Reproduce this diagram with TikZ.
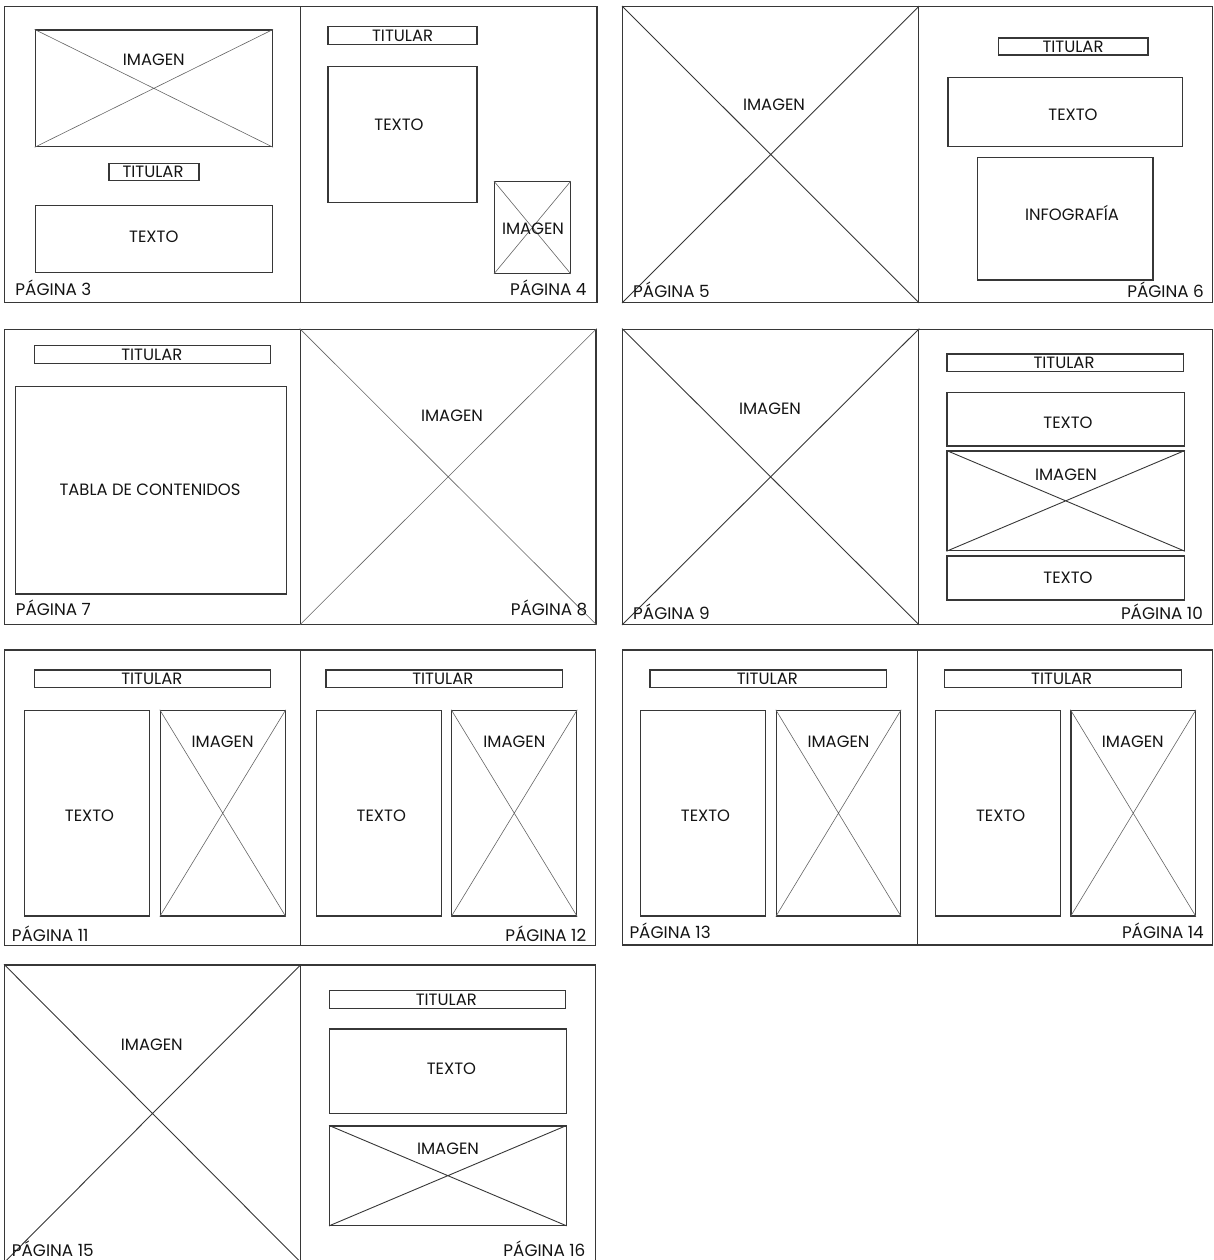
\documentclass[tikz,border=0pt]{standalone}
\usepackage{fontspec}
\setmainfont{Poppins}
\usepackage{tikz}
\usetikzlibrary{fit,positioning}
\definecolor{maqline}{RGB}{55,55,55}
\definecolor{maqcross}{RGB}{100,100,100}
\definecolor{maqtext}{RGB}{20,20,20}
\tikzset{
  mpage/.style ={rectangle, draw=maqline, line width=1.3pt, inner sep=0pt},
  mbox/.style  ={rectangle, draw=maqline, line width=1.1pt, inner sep=0pt},
  mcross/.style={line width=0.6pt, maqcross},
  mcrossd/.style={line width=0.9pt, maqline},
  mlabel/.style={text=maqtext, inner sep=0pt, font=\fontsize{16.4}{17}\selectfont},
  mpag/.style  ={mlabel, font=\fontsize{16.8}{17}\selectfont},
}

\begin{document}
\begin{tikzpicture}[x=1pt, y=-1pt]
  \useasboundingbox (0,0) rectangle (1213,1260);
  % paginas
  \foreach \n/\xa/\ya/\xb/\yb in {
      p3/4.7/6.5/300.4/302.5,      p4/300.4/6.5/597/302.5,
      p5/622.7/6.7/918.6/302.3,    p6/918.6/6.7/1212.5/302.3,
      p7/4.7/329.3/300.4/624.3,    p8/300.4/329.3/596/624.3,
      p9/622.7/329.3/918.6/624.3,  p10/918.6/329.3/1212.5/624.3,
      p11/4.7/650/300.4/945.7,     p12/300.4/650/595.3/945.7,
      p13/622.7/650/917.8/945,     p14/917.8/650/1212.5/945,
      p15/4.7/965/300.4/1262,      p16/300.4/965/595.3/1262}
    \node[mpage, fit={(\xa,\ya) (\xb,\yb)}] (\n) {};
  % cajas
  \foreach \n/\xa/\ya/\xb/\yb in {
      img3/35.2/30/272.5/146.7,     tit3/109/163.3/199/180.7,
      txt3/35.2/205.7/272.5/272.7,  tit4/328/26.7/477/44.3,
      txt4/328/66.7/477/202.3,      img4/494.5/181.7/570.2/273.3,
      tit6/998.8/38/1148/55,        txt6/948/77.7/1182.5/146.7,
      inf6/977.3/157.3/1153/280,
      tit7/34.2/345.7/270.8/363.7,  tab7/15.6/386.7/286.4/594,
      tit10/947/354/1183.7/371.7,   txt10/947/392.3/1184.4/446,
      img10/947/451/1184.4/550.7,   txt10b/947/556/1184.4/600,
      tit11/34.2/670/270.8/687.7,   txt11/24.9/710.3/149.8/916,
      img11/160.3/710.3/285.2/916,  tit12/326/670/562.6/687.7,
      txt12/316.7/710.3/441.2/916,  img12/451.8/710.3/576.7/916,
      tit13/650/670/886.6/687.7,    txt13/640.7/710.3/765.4/916,
      img13/776.3/710.3/900.6/916,  tit14/944.8/670/1181.3/687.7,
      txt14/935.4/710.3/1060.1/916, img14/1071/710.3/1195.4/916,
      tit16/329.6/990.7/565.4/1008.3, txt16/329.6/1029/566.1/1113.3,
      img16/329.6/1126/566.1/1225.3}
    \node[mbox, fit={(\xa,\ya) (\xb,\yb)}] (\n) {};
  % cruces de imagen
  \foreach \n in {img3,img4,p8,img11,img12,img13,img14}
    \draw[mcross] (\n.north west) -- (\n.south east) (\n.north east) -- (\n.south west);
  \foreach \n in {p5,p9,img10,p15,img16}
    \draw[mcrossd] (\n.north west) -- (\n.south east) (\n.north east) -- (\n.south west);
  % textos
  \foreach \n/\x/\y/\t in {
      li3/153.8/59.3/IMAGEN,    lh3/153/172/TITULAR,     lt3/153.8/237/TEXTO,
      lh4/402.6/35.7/TITULAR,   lt4/399/125/TEXTO,       li4/533/228.7/IMAGEN,
      li5/774/104.3/IMAGEN,     lh6/1073/46.7/TITULAR,   lt6/1073/115/TEXTO,
      lf6/1072/213.3/INFOGRAFÍA,
      lh7/151.8/354.7/TITULAR,  lb7/150/490/TABLA DE CONTENIDOS,
      li8/452/415.7/IMAGEN,     li9/770/408.3/IMAGEN,
      lh10/1064/362.7/TITULAR,  lt10/1068/422.3/TEXTO,   li10/1066/474.3/IMAGEN,
      lu10/1068/577.3/TEXTO,
      lh11/151.8/679/TITULAR,   lt11/89.5/815.7/TEXTO,   li11/222.6/741.7/IMAGEN,
      lh12/442.8/679/TITULAR,   lt12/381.3/815.7/TEXTO,  li12/514.4/741.7/IMAGEN,
      lh13/767.3/679/TITULAR,   lt13/705.5/815.7/TEXTO,  li13/838.5/741.7/IMAGEN,
      lh14/1061.7/679/TITULAR,  lt14/1000.7/815.7/TEXTO, li14/1132.8/741.7/IMAGEN,
      li15/151.8/1045/IMAGEN,   lh16/446.3/1000/TITULAR, lt16/451.4/1069/TEXTO,
      li16/448/1148.3/IMAGEN}
    \node[mlabel] (\n) at (\x,\y) {\t};
  % numeros de pagina
  \foreach \n/\x/\y/\k in {3/15.3/287.3/3, 5/633/289.3/5, 7/15.6/608/7,
      9/633/611.7/9, 11/11.7/933.3/11, 13/629.3/930.7/13, 15/11.7/1248.3/15}
    \node[mpag, anchor=west] (pg\n) at (\x,\y) {PÁGINA \k};
  \foreach \n/\x/\y/\k in {4/586.7/287.3/4, 6/1204/290/6, 8/587.5/608/8,
      10/1203/611.7/10, 12/586.4/933.3/12, 14/1204/930.7/14, 16/585.6/1248.3/16}
    \node[mpag, anchor=east] (pg\n) at (\x,\y) {PÁGINA \k};
\end{tikzpicture}
\end{document}
